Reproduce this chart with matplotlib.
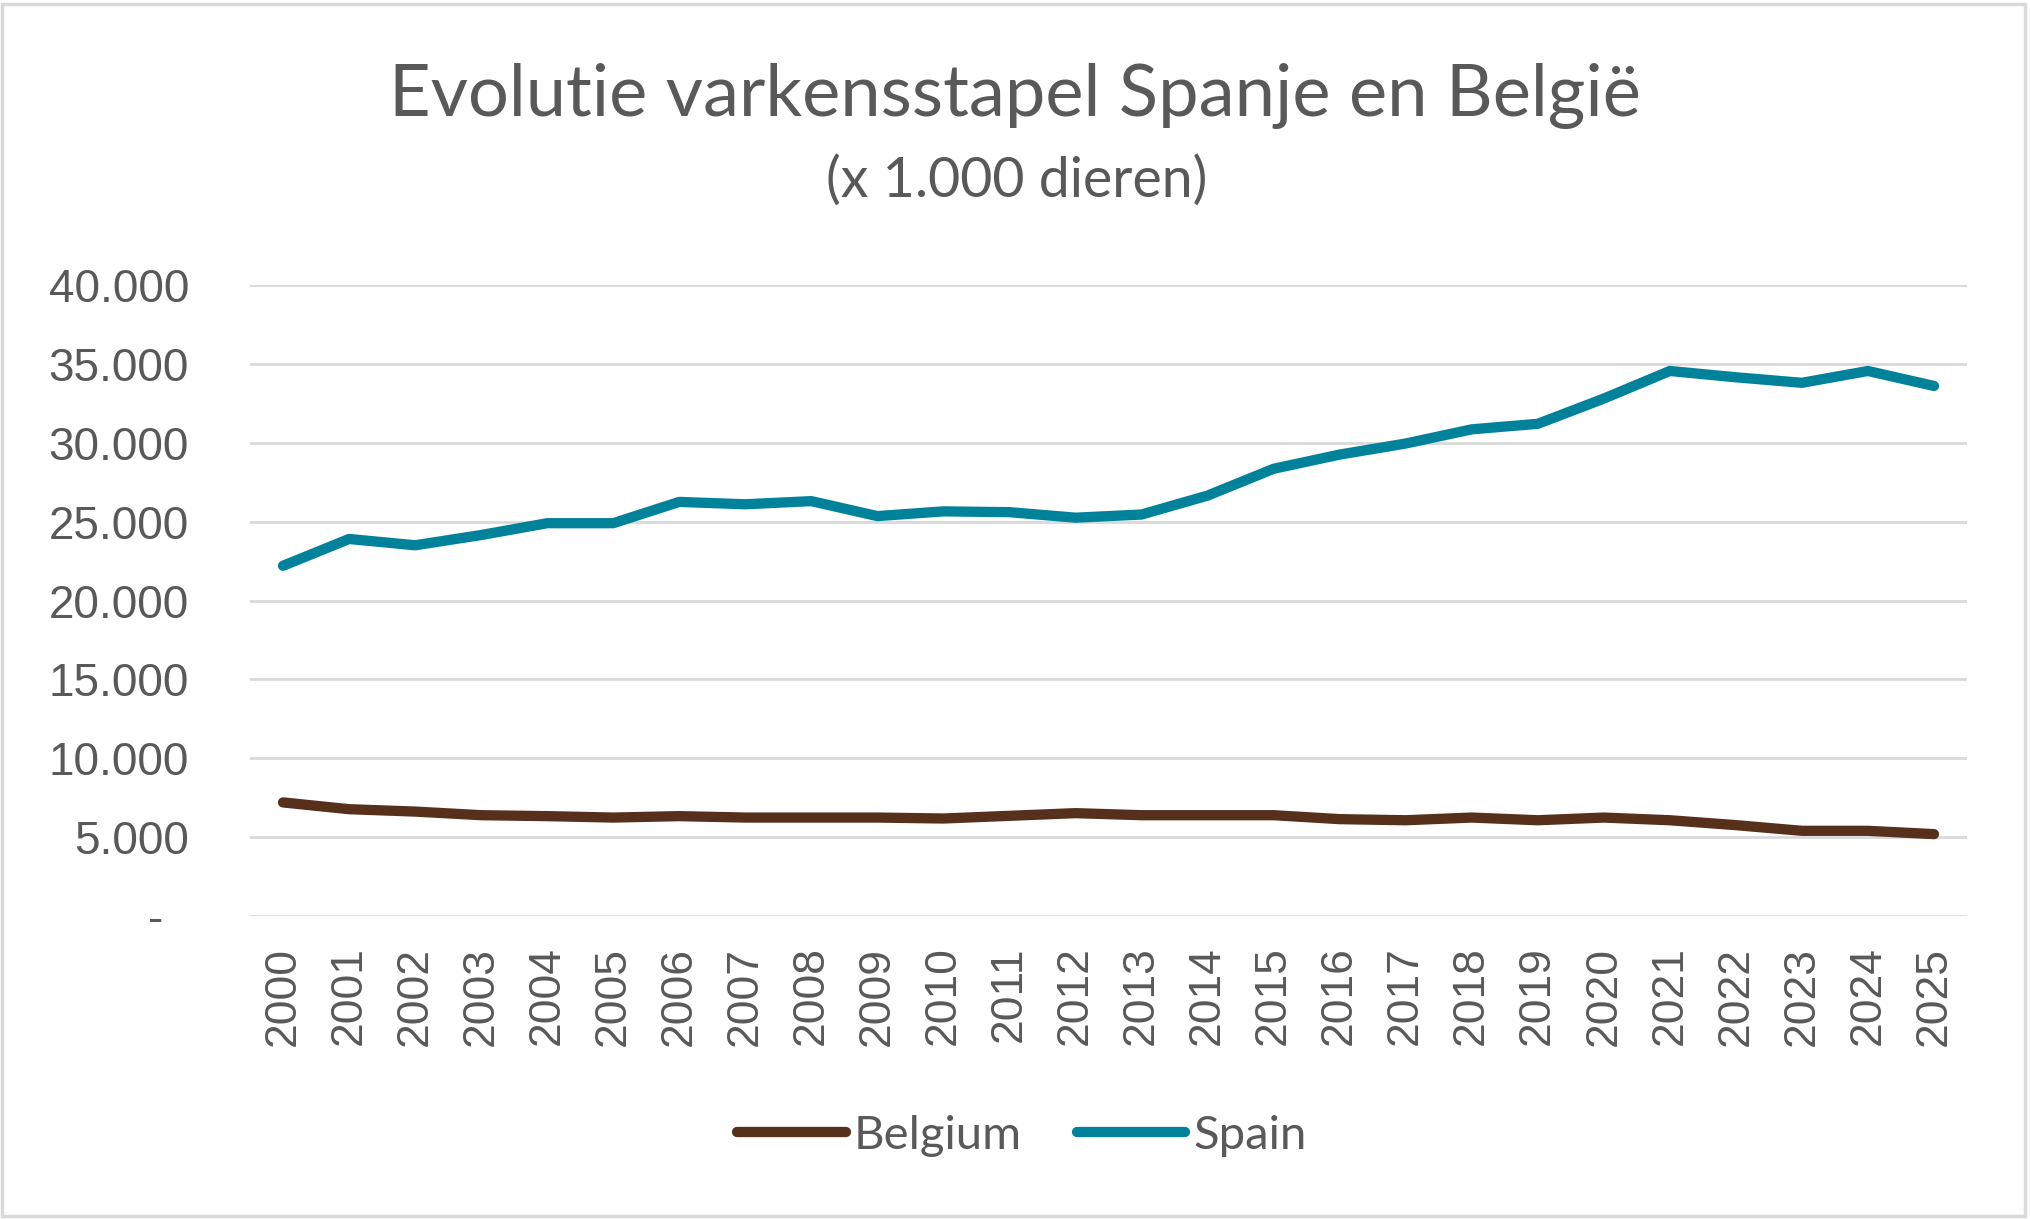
import numpy as np
import matplotlib
matplotlib.use("Agg")
import matplotlib.pyplot as plt
from matplotlib.patches import Rectangle

# data (x 1.000 dieren)
years = ["2000", "2001", "2002", "2003", "2004", "2005", "2006", "2007", "2008",
         "2009", "2010", "2011", "2012", "2013", "2014", "2015", "2016", "2017",
         "2018", "2019", "2020", "2021", "2022", "2023", "2024", "2025"]
belgium = [7200, 6770, 6620, 6390, 6330, 6240, 6330, 6240, 6240, 6240, 6180, 6350, 6520,
           6390, 6390, 6390, 6140, 6070, 6240, 6070, 6240, 6070, 5760, 5400, 5400, 5190]
spain = [22200, 23900, 23500, 24150, 24900, 24900, 26250, 26100, 26300, 25350, 25650, 25600,
         25250, 25450, 26650, 28350, 29250, 29950, 30850, 31200, 32800, 34550, 34150, 33800,
         34550, 33600]
ytick_values = [0, 5000, 10000, 15000, 20000, 25000, 30000, 35000, 40000]
ytick_labels = ["-  ", "5.000", "10.000", "15.000", "20.000", "25.000", "30.000", "35.000", "40.000"]

title = "Evolutie varkensstapel Spanje en België"
subtitle = "(x 1.000 dieren)"

brown = '#56301B'
teal = '#00829A'
textgrey = '#595959'
gridgrey = '#D9D9D9'

W, H = 2030, 1219
fig = plt.figure(figsize=(W / 100, H / 100), dpi=100, facecolor='white')

# plot area in pixels: x 250..1967, y 285..916
ax = fig.add_axes([250 / W, (H - 916) / H, (1967 - 250) / W, (916 - 285) / H])

x = np.arange(len(years))
ax.plot(x, belgium, color=brown, lw=7.4, solid_capstyle='round', solid_joinstyle='round', label="Belgium")
ax.plot(x, spain, color=teal, lw=7.4, solid_capstyle='round', solid_joinstyle='round', label="Spain")

ax.set_xlim(-0.5, len(years) - 0.5)
ax.set_ylim(0, 40000)
ax.set_yticks(ytick_values)
ax.set_yticklabels(ytick_labels)
ax.set_xticks(x)
ax.set_xticklabels(years, rotation=90)

for s in ax.spines.values():
    s.set_visible(False)
ax.grid(axis='y', color=gridgrey, lw=2.0)
ax.set_axisbelow(True)
ax.tick_params(axis='y', length=0, pad=44, labelsize=33, labelcolor=textgrey)
ax.tick_params(axis='x', length=0, pad=22, labelsize=32, labelcolor=textgrey)
for lab in ax.get_xticklabels() + ax.get_yticklabels():
    lab.set_fontfamily('Liberation Sans')

fig.text(0.5 * (389 + 1641) / W, 1 - 96 / H, title, ha='center', va='center',
         fontsize=52, color=textgrey, family='Lato')
fig.text(0.5 * (819 + 1214) / W, 1 - 181 / H, subtitle, ha='center', va='center',
         fontsize=40, color=textgrey, family='Lato')

leg = fig.legend(loc='center', bbox_to_anchor=(1022 / W, 1 - 1136 / H), ncol=2, frameon=False,
                 handlelength=2.3, handletextpad=0.17, columnspacing=1.15, borderpad=0,
                 prop={'family': 'Lato', 'size': 34})
for t in leg.get_texts():
    t.set_color(textgrey)

# light grey chart border
fig.add_artist(Rectangle((2 / W, 3 / H), (2025 - 2) / W, (1215 - 3) / H, transform=fig.transFigure,
                         fill=False, edgecolor=gridgrey, lw=2.5))

fig.savefig("out.png", dpi=100, facecolor='white')
